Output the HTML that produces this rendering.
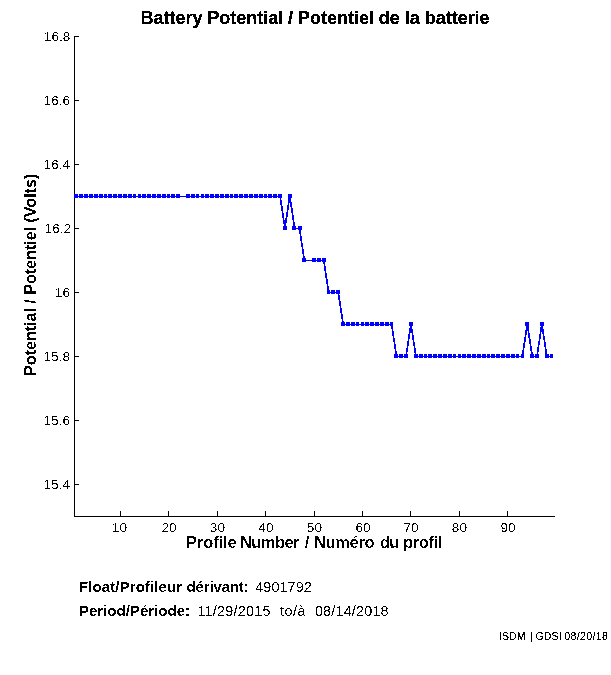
<!DOCTYPE html>
<html><head><meta charset="utf-8"><title>Battery Potential</title>
<style>
html,body{margin:0;padding:0;background:#fff;}
body{width:611px;height:675px;overflow:hidden;font-family:"Liberation Sans",sans-serif;}
svg{display:block;font-family:"Liberation Sans",sans-serif;}
text{fill:#000;white-space:pre;}
</style></head><body>
<svg width="611" height="675" viewBox="0 0 611 675">
<defs>
<filter id="tb" x="-5%" y="-5%" width="110%" height="110%" color-interpolation-filters="sRGB"><feComponentTransfer><feFuncA type="discrete" tableValues="0 0 1 1 1"/></feComponentTransfer></filter>
<filter id="tm" x="-5%" y="-5%" width="110%" height="110%" color-interpolation-filters="sRGB"><feComponentTransfer><feFuncA type="discrete" tableValues="0 0 0 1 1"/></feComponentTransfer></filter>
<filter id="ts" x="-5%" y="-5%" width="110%" height="110%" color-interpolation-filters="sRGB"><feComponentTransfer><feFuncA type="discrete" tableValues="0 0 1 1 1"/></feComponentTransfer></filter>
<filter id="ty" x="-5%" y="-5%" width="110%" height="110%" color-interpolation-filters="sRGB"><feComponentTransfer><feFuncA type="discrete" tableValues="0 1"/></feComponentTransfer></filter>
<filter id="tn" x="-5%" y="-5%" width="110%" height="110%" color-interpolation-filters="sRGB"><feComponentTransfer><feFuncA type="discrete" tableValues="0 1"/></feComponentTransfer></filter>
</defs>
<rect width="611" height="675" fill="#fff"/>
<g fill="#000" shape-rendering="crispEdges">
<rect x="74" y="36" width="1" height="481"/>
<rect x="74" y="516" width="481" height="1"/>
<rect x="75" y="36" width="4" height="1"/>
<rect x="75" y="100" width="4" height="1"/>
<rect x="75" y="164" width="4" height="1"/>
<rect x="75" y="228" width="4" height="1"/>
<rect x="75" y="292" width="4" height="1"/>
<rect x="75" y="356" width="4" height="1"/>
<rect x="75" y="420" width="4" height="1"/>
<rect x="75" y="484" width="4" height="1"/>
<rect x="120" y="511" width="1" height="5"/>
<rect x="168" y="511" width="1" height="5"/>
<rect x="217" y="511" width="1" height="5"/>
<rect x="265" y="511" width="1" height="5"/>
<rect x="314" y="511" width="1" height="5"/>
<rect x="362" y="511" width="1" height="5"/>
<rect x="410" y="511" width="1" height="5"/>
<rect x="459" y="511" width="1" height="5"/>
<rect x="507" y="511" width="1" height="5"/>
</g>
<g fill="#00f" stroke="none" shape-rendering="crispEdges">
<rect x="76" y="196" width="5" height="1"/>
<rect x="81" y="196" width="5" height="1"/>
<rect x="86" y="196" width="5" height="1"/>
<rect x="91" y="196" width="5" height="1"/>
<rect x="96" y="196" width="5" height="1"/>
<rect x="101" y="196" width="5" height="1"/>
<rect x="106" y="196" width="4" height="1"/>
<rect x="110" y="196" width="5" height="1"/>
<rect x="115" y="196" width="5" height="1"/>
<rect x="120" y="196" width="5" height="1"/>
<rect x="125" y="196" width="5" height="1"/>
<rect x="130" y="196" width="5" height="1"/>
<rect x="135" y="196" width="4" height="1"/>
<rect x="139" y="196" width="5" height="1"/>
<rect x="144" y="196" width="5" height="1"/>
<rect x="149" y="196" width="5" height="1"/>
<rect x="154" y="196" width="5" height="1"/>
<rect x="159" y="196" width="5" height="1"/>
<rect x="164" y="196" width="5" height="1"/>
<rect x="169" y="196" width="4" height="1"/>
<rect x="173" y="196" width="5" height="1"/>
<rect x="178" y="196" width="10" height="1"/>
<rect x="188" y="196" width="5" height="1"/>
<rect x="193" y="196" width="5" height="1"/>
<rect x="198" y="196" width="4" height="1"/>
<rect x="202" y="196" width="5" height="1"/>
<rect x="207" y="196" width="5" height="1"/>
<rect x="212" y="196" width="5" height="1"/>
<rect x="217" y="196" width="5" height="1"/>
<rect x="222" y="196" width="5" height="1"/>
<rect x="227" y="196" width="5" height="1"/>
<rect x="232" y="196" width="4" height="1"/>
<rect x="236" y="196" width="5" height="1"/>
<rect x="241" y="196" width="5" height="1"/>
<rect x="246" y="196" width="5" height="1"/>
<rect x="251" y="196" width="5" height="1"/>
<rect x="256" y="196" width="5" height="1"/>
<rect x="261" y="196" width="5" height="1"/>
<rect x="266" y="196" width="4" height="1"/>
<rect x="270" y="196" width="5" height="1"/>
<rect x="275" y="196" width="5" height="1"/>
<rect x="295" y="228" width="4" height="1"/>
<rect x="304" y="260" width="10" height="1"/>
<rect x="314" y="260" width="5" height="1"/>
<rect x="319" y="260" width="5" height="1"/>
<rect x="329" y="292" width="4" height="1"/>
<rect x="333" y="292" width="5" height="1"/>
<rect x="343" y="324" width="5" height="1"/>
<rect x="348" y="324" width="5" height="1"/>
<rect x="353" y="324" width="5" height="1"/>
<rect x="358" y="324" width="4" height="1"/>
<rect x="362" y="324" width="5" height="1"/>
<rect x="367" y="324" width="5" height="1"/>
<rect x="372" y="324" width="5" height="1"/>
<rect x="377" y="324" width="5" height="1"/>
<rect x="382" y="324" width="5" height="1"/>
<rect x="387" y="324" width="5" height="1"/>
<rect x="396" y="356" width="5" height="1"/>
<rect x="401" y="356" width="5" height="1"/>
<rect x="416" y="356" width="5" height="1"/>
<rect x="421" y="356" width="5" height="1"/>
<rect x="426" y="356" width="4" height="1"/>
<rect x="430" y="356" width="5" height="1"/>
<rect x="435" y="356" width="5" height="1"/>
<rect x="440" y="356" width="5" height="1"/>
<rect x="445" y="356" width="5" height="1"/>
<rect x="450" y="356" width="5" height="1"/>
<rect x="455" y="356" width="4" height="1"/>
<rect x="459" y="356" width="5" height="1"/>
<rect x="464" y="356" width="5" height="1"/>
<rect x="469" y="356" width="5" height="1"/>
<rect x="474" y="356" width="5" height="1"/>
<rect x="479" y="356" width="5" height="1"/>
<rect x="484" y="356" width="5" height="1"/>
<rect x="489" y="356" width="4" height="1"/>
<rect x="493" y="356" width="5" height="1"/>
<rect x="498" y="356" width="5" height="1"/>
<rect x="503" y="356" width="5" height="1"/>
<rect x="508" y="356" width="5" height="1"/>
<rect x="513" y="356" width="5" height="1"/>
<rect x="518" y="356" width="4" height="1"/>
<rect x="532" y="356" width="5" height="1"/>
<rect x="547" y="356" width="5" height="1"/>
<rect x="74" y="194" width="4" height="4"/>
<rect x="79" y="194" width="4" height="4"/>
<rect x="84" y="194" width="4" height="4"/>
<rect x="89" y="194" width="4" height="4"/>
<rect x="94" y="194" width="4" height="4"/>
<rect x="99" y="194" width="4" height="4"/>
<rect x="104" y="194" width="3" height="4"/>
<rect x="108" y="194" width="4" height="4"/>
<rect x="113" y="194" width="4" height="4"/>
<rect x="118" y="194" width="4" height="4"/>
<rect x="123" y="194" width="4" height="4"/>
<rect x="128" y="194" width="4" height="4"/>
<rect x="133" y="194" width="3" height="4"/>
<rect x="138" y="194" width="3" height="4"/>
<rect x="142" y="194" width="4" height="4"/>
<rect x="147" y="194" width="4" height="4"/>
<rect x="152" y="194" width="4" height="4"/>
<rect x="157" y="194" width="4" height="4"/>
<rect x="162" y="194" width="4" height="4"/>
<rect x="167" y="194" width="3" height="4"/>
<rect x="171" y="194" width="4" height="4"/>
<rect x="176" y="194" width="4" height="4"/>
<rect x="186" y="194" width="4" height="4"/>
<rect x="191" y="194" width="4" height="4"/>
<rect x="196" y="194" width="3" height="4"/>
<rect x="201" y="194" width="3" height="4"/>
<rect x="205" y="194" width="4" height="4"/>
<rect x="210" y="194" width="4" height="4"/>
<rect x="215" y="194" width="4" height="4"/>
<rect x="220" y="194" width="4" height="4"/>
<rect x="225" y="194" width="4" height="4"/>
<rect x="230" y="194" width="3" height="4"/>
<rect x="234" y="194" width="4" height="4"/>
<rect x="239" y="194" width="4" height="4"/>
<rect x="244" y="194" width="4" height="4"/>
<rect x="249" y="194" width="4" height="4"/>
<rect x="254" y="194" width="4" height="4"/>
<rect x="259" y="194" width="4" height="4"/>
<rect x="264" y="194" width="3" height="4"/>
<rect x="268" y="194" width="4" height="4"/>
<rect x="273" y="194" width="4" height="4"/>
<rect x="278" y="194" width="4" height="4"/>
<rect x="283" y="226" width="4" height="4"/>
<rect x="288" y="194" width="4" height="4"/>
<rect x="292" y="226" width="4" height="4"/>
<rect x="298" y="226" width="4" height="4"/>
<rect x="302" y="258" width="4" height="4"/>
<rect x="312" y="258" width="4" height="4"/>
<rect x="317" y="258" width="4" height="4"/>
<rect x="322" y="258" width="4" height="4"/>
<rect x="327" y="290" width="3" height="4"/>
<rect x="331" y="290" width="4" height="4"/>
<rect x="336" y="290" width="4" height="4"/>
<rect x="341" y="322" width="4" height="4"/>
<rect x="346" y="322" width="4" height="4"/>
<rect x="351" y="322" width="4" height="4"/>
<rect x="356" y="322" width="3" height="4"/>
<rect x="361" y="322" width="3" height="4"/>
<rect x="365" y="322" width="4" height="4"/>
<rect x="370" y="322" width="4" height="4"/>
<rect x="375" y="322" width="4" height="4"/>
<rect x="380" y="322" width="4" height="4"/>
<rect x="385" y="322" width="4" height="4"/>
<rect x="390" y="322" width="3" height="4"/>
<rect x="394" y="354" width="4" height="4"/>
<rect x="399" y="354" width="4" height="4"/>
<rect x="404" y="354" width="4" height="4"/>
<rect x="409" y="322" width="4" height="4"/>
<rect x="414" y="354" width="4" height="4"/>
<rect x="419" y="354" width="4" height="4"/>
<rect x="424" y="354" width="3" height="4"/>
<rect x="428" y="354" width="4" height="4"/>
<rect x="433" y="354" width="4" height="4"/>
<rect x="438" y="354" width="4" height="4"/>
<rect x="443" y="354" width="4" height="4"/>
<rect x="448" y="354" width="4" height="4"/>
<rect x="453" y="354" width="3" height="4"/>
<rect x="458" y="354" width="3" height="4"/>
<rect x="462" y="354" width="4" height="4"/>
<rect x="467" y="354" width="4" height="4"/>
<rect x="472" y="354" width="4" height="4"/>
<rect x="477" y="354" width="4" height="4"/>
<rect x="482" y="354" width="4" height="4"/>
<rect x="487" y="354" width="3" height="4"/>
<rect x="491" y="354" width="4" height="4"/>
<rect x="496" y="354" width="4" height="4"/>
<rect x="501" y="354" width="4" height="4"/>
<rect x="506" y="354" width="4" height="4"/>
<rect x="511" y="354" width="4" height="4"/>
<rect x="516" y="354" width="3" height="4"/>
<rect x="521" y="354" width="3" height="4"/>
<rect x="525" y="322" width="4" height="4"/>
<rect x="530" y="354" width="4" height="4"/>
<rect x="535" y="354" width="4" height="4"/>
<rect x="540" y="322" width="4" height="4"/>
<rect x="545" y="354" width="4" height="4"/>
<rect x="550" y="354" width="3" height="4"/>
</g>
<g stroke="#00f" stroke-width="1.7" fill="none" shape-rendering="crispEdges">
<line x1="280.06" y1="196.00" x2="284.91" y2="228.00"/>
<line x1="284.91" y1="228.00" x2="289.76" y2="196.00"/>
<line x1="289.76" y1="196.00" x2="294.61" y2="228.00"/>
<line x1="299.45" y1="228.00" x2="304.30" y2="260.00"/>
<line x1="323.70" y1="260.00" x2="328.55" y2="292.00"/>
<line x1="338.24" y1="292.00" x2="343.09" y2="324.00"/>
<line x1="391.58" y1="324.00" x2="396.42" y2="356.00"/>
<line x1="406.12" y1="356.00" x2="410.97" y2="324.00"/>
<line x1="410.97" y1="324.00" x2="415.82" y2="356.00"/>
<line x1="522.48" y1="356.00" x2="527.33" y2="324.00"/>
<line x1="527.33" y1="324.00" x2="532.18" y2="356.00"/>
<line x1="537.03" y1="356.00" x2="541.88" y2="324.00"/>
<line x1="541.88" y1="324.00" x2="546.73" y2="356.00"/>
</g>
<g filter="url(#tb)">
<text x="140.50" y="23.50" style="stroke:#000;stroke-width:0.1px;font-size:18px;font-weight:bold;letter-spacing:-0.023px;">Battery Potential / Potentiel de la batterie</text>
</g>
<g filter="url(#tm)">
<text x="186.00" y="547.80" style="font-size:16.5px;font-weight:bold;letter-spacing:-0.111px;">Profile</text>
<text x="240.00" y="547.80" style="font-size:16.5px;font-weight:bold;letter-spacing:-0.584px;">Number</text>
<text x="304.80" y="547.80" style="font-size:16.5px;font-weight:bold;">/</text>
<text x="313.90" y="547.80" style="font-size:16.5px;font-weight:bold;letter-spacing:-0.333px;">Numéro</text>
<text x="380.00" y="547.80" style="font-size:16.5px;font-weight:bold;letter-spacing:-0.879px;">du</text>
<text x="403.00" y="547.80" style="font-size:16.5px;font-weight:bold;letter-spacing:-0.392px;">profil</text>
</g>
<g filter="url(#ty)">
<text transform="translate(35.8,375.9) rotate(-90)" style="font-size:16.2px;font-weight:bold;letter-spacing:-0.06px">Potential / Potentiel (Volts)</text>
<text x="78.90" y="591.60" style="font-size:15px;font-weight:bold;letter-spacing:0.112px;">Float/Profileur</text>
<text x="186.60" y="591.60" style="font-size:15px;font-weight:bold;letter-spacing:-0.182px;">dérivant:</text>
<text x="78.90" y="616.20" style="font-size:15px;font-weight:bold;letter-spacing:0.017px;">Period/Période:</text>
</g>
<g filter="url(#ts)">
<text x="498.90" y="639.80" style="font-size:10.5px;letter-spacing:0.132px;">ISDM</text>
<text x="530.30" y="639.80" style="font-size:10.5px;">|</text>
<text x="535.50" y="639.80" style="font-size:10.5px;letter-spacing:0.149px;">GDSI</text>
<text x="564.30" y="639.80" style="font-size:10.5px;letter-spacing:0.367px;">08/20/18</text>
</g>
<g filter="url(#tn)">
<text x="255.30" y="591.60" style="font-size:14.4px;letter-spacing:0.063px;">4901792</text>
<text x="197.40" y="616.20" style="font-size:14.4px;letter-spacing:0.239px;">11/29/2015</text>
<text x="279.90" y="616.20" style="font-size:14.4px;letter-spacing:0.533px;">to/à</text>
<text x="314.90" y="616.20" style="font-size:14.4px;letter-spacing:0.187px;">08/14/2018</text>
<text x="43.77" y="40.60" style="font-size:13.7px;">16.8</text>
<text x="43.57" y="104.60" style="font-size:13.7px;">16.6</text>
<text x="43.57" y="168.60" style="font-size:13.7px;">16.4</text>
<text x="44.57" y="232.60" style="font-size:13.7px;">16.2</text>
<text x="54.79" y="296.60" style="font-size:13.7px;">16</text>
<text x="43.47" y="360.60" style="font-size:13.7px;">15.8</text>
<text x="43.47" y="424.60" style="font-size:13.7px;">15.6</text>
<text x="43.47" y="488.60" style="font-size:13.7px;">15.4</text>
<text x="111.85" y="531.70" style="font-size:13.7px;">10</text>
<text x="161.44" y="531.70" style="font-size:13.7px;">20</text>
<text x="209.82" y="531.70" style="font-size:13.7px;">30</text>
<text x="258.31" y="531.70" style="font-size:13.7px;">40</text>
<text x="306.79" y="531.70" style="font-size:13.7px;">50</text>
<text x="355.38" y="531.70" style="font-size:13.7px;">60</text>
<text x="403.46" y="531.70" style="font-size:13.7px;">70</text>
<text x="451.85" y="531.70" style="font-size:13.7px;">80</text>
<text x="500.43" y="531.70" style="font-size:13.7px;">90</text>
</g>
</svg>
</body></html>
